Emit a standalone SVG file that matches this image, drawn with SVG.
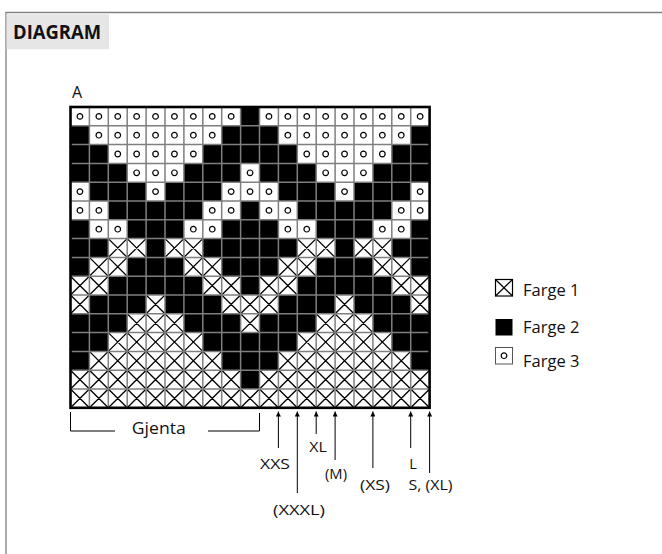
<svg xmlns="http://www.w3.org/2000/svg" xmlns:xlink="http://www.w3.org/1999/xlink" width="662" height="554" viewBox="0 0 662 554">
<style>
.t{font-family:"Open Sans","Liberation Sans",sans-serif;fill:#111}
.b{fill:#000}
.x{fill:none;stroke:#000;stroke-width:1.3}
.ln{stroke:#000;stroke-width:1;fill:none}
.grid{stroke:#7f7f7f;stroke-width:1.5;fill:none}
</style>
<defs>
<circle id="o" cx="0" cy="0" r="2.8" fill="#fff" stroke="#000" stroke-width="1.2"/>
<marker id="ah" viewBox="0 0 10 10" refX="10" refY="5" markerUnits="userSpaceOnUse" markerWidth="7" markerHeight="5" orient="auto">
<path d="M0,0 L10,5 L0,10 z" fill="#000"/>
</marker>
</defs>
<rect width="662" height="554" fill="#fff"/>
<g id="frame">
<path d="M6 554V12.5H662" fill="none" stroke="#808080" stroke-width="1.3"/>
<rect x="6.6" y="13.2" width="102.4" height="36" fill="#e6e6e6"/>
<text class="t" x="13" y="39.3" font-size="20" font-weight="bold" textLength="88" lengthAdjust="spacingAndGlyphs">DIAGRAM</text>
</g>
<text class="t" x="72" y="98.3" font-size="16">A</text>
<g id="chart">
<rect x="70.5" y="107" width="359.1" height="300.8" fill="#fff"/>
<g id="black">
<rect class="b" x="240.6" y="107" width="18.9" height="18.8"/>
<rect class="b" x="70.5" y="125.8" width="18.9" height="18.8"/>
<rect class="b" x="221.7" y="125.8" width="56.7" height="18.8"/>
<rect class="b" x="410.7" y="125.8" width="18.9" height="18.8"/>
<rect class="b" x="70.5" y="144.6" width="37.8" height="18.8"/>
<rect class="b" x="202.8" y="144.6" width="94.5" height="18.8"/>
<rect class="b" x="391.8" y="144.6" width="37.8" height="18.8"/>
<rect class="b" x="70.5" y="163.4" width="56.7" height="18.8"/>
<rect class="b" x="183.9" y="163.4" width="56.7" height="18.8"/>
<rect class="b" x="259.5" y="163.4" width="56.7" height="18.8"/>
<rect class="b" x="372.9" y="163.4" width="56.7" height="18.8"/>
<rect class="b" x="89.4" y="182.2" width="56.7" height="18.8"/>
<rect class="b" x="165" y="182.2" width="56.7" height="18.8"/>
<rect class="b" x="278.4" y="182.2" width="56.7" height="18.8"/>
<rect class="b" x="354" y="182.2" width="56.7" height="18.8"/>
<rect class="b" x="108.3" y="201" width="94.5" height="18.8"/>
<rect class="b" x="240.6" y="201" width="18.9" height="18.8"/>
<rect class="b" x="297.3" y="201" width="94.5" height="18.8"/>
<rect class="b" x="70.5" y="219.8" width="18.9" height="18.8"/>
<rect class="b" x="127.2" y="219.8" width="56.7" height="18.8"/>
<rect class="b" x="221.7" y="219.8" width="56.7" height="18.8"/>
<rect class="b" x="316.2" y="219.8" width="56.7" height="18.8"/>
<rect class="b" x="410.7" y="219.8" width="18.9" height="18.8"/>
<rect class="b" x="70.5" y="238.6" width="37.8" height="18.8"/>
<rect class="b" x="146.1" y="238.6" width="18.9" height="18.8"/>
<rect class="b" x="202.8" y="238.6" width="94.5" height="18.8"/>
<rect class="b" x="335.1" y="238.6" width="18.9" height="18.8"/>
<rect class="b" x="391.8" y="238.6" width="37.8" height="18.8"/>
<rect class="b" x="70.5" y="257.4" width="18.9" height="18.8"/>
<rect class="b" x="127.2" y="257.4" width="56.7" height="18.8"/>
<rect class="b" x="221.7" y="257.4" width="56.7" height="18.8"/>
<rect class="b" x="316.2" y="257.4" width="56.7" height="18.8"/>
<rect class="b" x="410.7" y="257.4" width="18.9" height="18.8"/>
<rect class="b" x="108.3" y="276.2" width="94.5" height="18.8"/>
<rect class="b" x="240.6" y="276.2" width="18.9" height="18.8"/>
<rect class="b" x="297.3" y="276.2" width="94.5" height="18.8"/>
<rect class="b" x="89.4" y="295" width="56.7" height="18.8"/>
<rect class="b" x="165" y="295" width="56.7" height="18.8"/>
<rect class="b" x="278.4" y="295" width="56.7" height="18.8"/>
<rect class="b" x="354" y="295" width="56.7" height="18.8"/>
<rect class="b" x="70.5" y="313.8" width="56.7" height="18.8"/>
<rect class="b" x="183.9" y="313.8" width="56.7" height="18.8"/>
<rect class="b" x="259.5" y="313.8" width="56.7" height="18.8"/>
<rect class="b" x="372.9" y="313.8" width="56.7" height="18.8"/>
<rect class="b" x="70.5" y="332.6" width="37.8" height="18.8"/>
<rect class="b" x="202.8" y="332.6" width="94.5" height="18.8"/>
<rect class="b" x="391.8" y="332.6" width="37.8" height="18.8"/>
<rect class="b" x="70.5" y="351.4" width="18.9" height="18.8"/>
<rect class="b" x="221.7" y="351.4" width="56.7" height="18.8"/>
<rect class="b" x="410.7" y="351.4" width="18.9" height="18.8"/>
<rect class="b" x="240.6" y="370.2" width="18.9" height="18.8"/>
</g>
<path id="crosses" class="x" d="
M108.3 238.6l18.9 18.8m-18.9 0l18.9-18.8l18.9 18.8m-18.9 0l18.9-18.8
M165 238.6l18.9 18.8m-18.9 0l18.9-18.8l18.9 18.8m-18.9 0l18.9-18.8
M297.3 238.6l18.9 18.8m-18.9 0l18.9-18.8l18.9 18.8m-18.9 0l18.9-18.8
M354 238.6l18.9 18.8m-18.9 0l18.9-18.8l18.9 18.8m-18.9 0l18.9-18.8
M89.4 257.4l18.9 18.8m-18.9 0l18.9-18.8l18.9 18.8m-18.9 0l18.9-18.8
M183.9 257.4l18.9 18.8m-18.9 0l18.9-18.8l18.9 18.8m-18.9 0l18.9-18.8
M278.4 257.4l18.9 18.8m-18.9 0l18.9-18.8l18.9 18.8m-18.9 0l18.9-18.8
M372.9 257.4l18.9 18.8m-18.9 0l18.9-18.8l18.9 18.8m-18.9 0l18.9-18.8
M70.5 276.2l18.9 18.8m-18.9 0l18.9-18.8l18.9 18.8m-18.9 0l18.9-18.8
M202.8 276.2l18.9 18.8m-18.9 0l18.9-18.8l18.9 18.8m-18.9 0l18.9-18.8
M259.5 276.2l18.9 18.8m-18.9 0l18.9-18.8l18.9 18.8m-18.9 0l18.9-18.8
M391.8 276.2l18.9 18.8m-18.9 0l18.9-18.8l18.9 18.8m-18.9 0l18.9-18.8
M70.5 295l18.9 18.8m-18.9 0l18.9-18.8
M146.1 295l18.9 18.8m-18.9 0l18.9-18.8
M221.7 295l18.9 18.8m-18.9 0l18.9-18.8l18.9 18.8m-18.9 0l18.9-18.8l18.9 18.8m-18.9 0l18.9-18.8
M335.1 295l18.9 18.8m-18.9 0l18.9-18.8
M410.7 295l18.9 18.8m-18.9 0l18.9-18.8
M127.2 313.8l18.9 18.8m-18.9 0l18.9-18.8l18.9 18.8m-18.9 0l18.9-18.8l18.9 18.8m-18.9 0l18.9-18.8
M240.6 313.8l18.9 18.8m-18.9 0l18.9-18.8
M316.2 313.8l18.9 18.8m-18.9 0l18.9-18.8l18.9 18.8m-18.9 0l18.9-18.8l18.9 18.8m-18.9 0l18.9-18.8
M108.3 332.6l18.9 18.8m-18.9 0l18.9-18.8l18.9 18.8m-18.9 0l18.9-18.8l18.9 18.8m-18.9 0l18.9-18.8l18.9 18.8m-18.9 0l18.9-18.8l18.9 18.8m-18.9 0l18.9-18.8
M297.3 332.6l18.9 18.8m-18.9 0l18.9-18.8l18.9 18.8m-18.9 0l18.9-18.8l18.9 18.8m-18.9 0l18.9-18.8l18.9 18.8m-18.9 0l18.9-18.8l18.9 18.8m-18.9 0l18.9-18.8
M89.4 351.4l18.9 18.8m-18.9 0l18.9-18.8l18.9 18.8m-18.9 0l18.9-18.8l18.9 18.8m-18.9 0l18.9-18.8l18.9 18.8m-18.9 0l18.9-18.8l18.9 18.8m-18.9 0l18.9-18.8l18.9 18.8m-18.9 0l18.9-18.8l18.9 18.8m-18.9 0l18.9-18.8
M278.4 351.4l18.9 18.8m-18.9 0l18.9-18.8l18.9 18.8m-18.9 0l18.9-18.8l18.9 18.8m-18.9 0l18.9-18.8l18.9 18.8m-18.9 0l18.9-18.8l18.9 18.8m-18.9 0l18.9-18.8l18.9 18.8m-18.9 0l18.9-18.8l18.9 18.8m-18.9 0l18.9-18.8
M70.5 370.2l18.9 18.8m-18.9 0l18.9-18.8l18.9 18.8m-18.9 0l18.9-18.8l18.9 18.8m-18.9 0l18.9-18.8l18.9 18.8m-18.9 0l18.9-18.8l18.9 18.8m-18.9 0l18.9-18.8l18.9 18.8m-18.9 0l18.9-18.8l18.9 18.8m-18.9 0l18.9-18.8l18.9 18.8m-18.9 0l18.9-18.8l18.9 18.8m-18.9 0l18.9-18.8
M259.5 370.2l18.9 18.8m-18.9 0l18.9-18.8l18.9 18.8m-18.9 0l18.9-18.8l18.9 18.8m-18.9 0l18.9-18.8l18.9 18.8m-18.9 0l18.9-18.8l18.9 18.8m-18.9 0l18.9-18.8l18.9 18.8m-18.9 0l18.9-18.8l18.9 18.8m-18.9 0l18.9-18.8l18.9 18.8m-18.9 0l18.9-18.8l18.9 18.8m-18.9 0l18.9-18.8
M70.5 389l18.9 18.8m-18.9 0l18.9-18.8l18.9 18.8m-18.9 0l18.9-18.8l18.9 18.8m-18.9 0l18.9-18.8l18.9 18.8m-18.9 0l18.9-18.8l18.9 18.8m-18.9 0l18.9-18.8l18.9 18.8m-18.9 0l18.9-18.8l18.9 18.8m-18.9 0l18.9-18.8l18.9 18.8m-18.9 0l18.9-18.8l18.9 18.8m-18.9 0l18.9-18.8l18.9 18.8m-18.9 0l18.9-18.8
M259.5 389l18.9 18.8m-18.9 0l18.9-18.8l18.9 18.8m-18.9 0l18.9-18.8l18.9 18.8m-18.9 0l18.9-18.8l18.9 18.8m-18.9 0l18.9-18.8l18.9 18.8m-18.9 0l18.9-18.8l18.9 18.8m-18.9 0l18.9-18.8l18.9 18.8m-18.9 0l18.9-18.8l18.9 18.8m-18.9 0l18.9-18.8l18.9 18.8m-18.9 0l18.9-18.8
"/>
<g id="circles">
<g transform="translate(0,116.4)">
<use href="#o" x="79.95"/><use href="#o" x="98.85"/><use href="#o" x="117.75"/><use href="#o" x="136.65"/><use href="#o" x="155.55"/><use href="#o" x="174.45"/><use href="#o" x="193.35"/><use href="#o" x="212.25"/><use href="#o" x="231.15"/>
<use href="#o" x="268.95"/><use href="#o" x="287.85"/><use href="#o" x="306.75"/><use href="#o" x="325.65"/><use href="#o" x="344.55"/><use href="#o" x="363.45"/><use href="#o" x="382.35"/><use href="#o" x="401.25"/><use href="#o" x="420.15"/>
</g>
<g transform="translate(0,135.2)">
<use href="#o" x="98.85"/><use href="#o" x="117.75"/><use href="#o" x="136.65"/><use href="#o" x="155.55"/><use href="#o" x="174.45"/><use href="#o" x="193.35"/><use href="#o" x="212.25"/>
<use href="#o" x="287.85"/><use href="#o" x="306.75"/><use href="#o" x="325.65"/><use href="#o" x="344.55"/><use href="#o" x="363.45"/><use href="#o" x="382.35"/><use href="#o" x="401.25"/>
</g>
<g transform="translate(0,154)">
<use href="#o" x="117.75"/><use href="#o" x="136.65"/><use href="#o" x="155.55"/><use href="#o" x="174.45"/><use href="#o" x="193.35"/>
<use href="#o" x="306.75"/><use href="#o" x="325.65"/><use href="#o" x="344.55"/><use href="#o" x="363.45"/><use href="#o" x="382.35"/>
</g>
<g transform="translate(0,172.8)">
<use href="#o" x="136.65"/><use href="#o" x="155.55"/><use href="#o" x="174.45"/><use href="#o" x="250.05"/><use href="#o" x="325.65"/><use href="#o" x="344.55"/><use href="#o" x="363.45"/>
</g>
<g transform="translate(0,191.6)">
<use href="#o" x="79.95"/><use href="#o" x="155.55"/><use href="#o" x="231.15"/><use href="#o" x="250.05"/><use href="#o" x="268.95"/><use href="#o" x="344.55"/><use href="#o" x="420.15"/>
</g>
<g transform="translate(0,210.4)">
<use href="#o" x="79.95"/><use href="#o" x="98.85"/><use href="#o" x="212.25"/><use href="#o" x="231.15"/><use href="#o" x="268.95"/><use href="#o" x="287.85"/><use href="#o" x="401.25"/><use href="#o" x="420.15"/>
</g>
<g transform="translate(0,229.2)">
<use href="#o" x="98.85"/><use href="#o" x="117.75"/><use href="#o" x="193.35"/><use href="#o" x="212.25"/><use href="#o" x="287.85"/><use href="#o" x="306.75"/><use href="#o" x="382.35"/><use href="#o" x="401.25"/>
</g>
</g>
<path class="grid" d="M89.4 107V407.8M108.3 107V407.8M127.2 107V407.8M146.1 107V407.8M165 107V407.8M183.9 107V407.8M202.8 107V407.8M221.7 107V407.8M240.6 107V407.8M259.5 107V407.8M278.4 107V407.8M297.3 107V407.8M316.2 107V407.8M335.1 107V407.8M354 107V407.8M372.9 107V407.8M391.8 107V407.8M410.7 107V407.8
M70.5 125.8H429.6M70.5 144.6H429.6M70.5 163.4H429.6M70.5 182.2H429.6M70.5 201H429.6M70.5 219.8H429.6M70.5 238.6H429.6M70.5 257.4H429.6M70.5 276.2H429.6M70.5 295H429.6M70.5 313.8H429.6M70.5 332.6H429.6M70.5 351.4H429.6M70.5 370.2H429.6M70.5 389H429.6"/>
<rect x="70.5" y="107" width="359.1" height="300.8" fill="none" stroke="#000" stroke-width="2.6"/>
</g>
<g id="connectors">
<path class="ln" d="M70.5 412V431H115M208 431H259.5V413"/>
<line class="ln" x1="278.4" y1="448" x2="278.4" y2="411.5" marker-end="url(#ah)"/>
<line class="ln" x1="297.3" y1="493" x2="297.3" y2="411.5" marker-end="url(#ah)"/>
<line class="ln" x1="316.2" y1="434" x2="316.2" y2="411.5" marker-end="url(#ah)"/>
<line class="ln" x1="335.1" y1="460" x2="335.1" y2="411.5" marker-end="url(#ah)"/>
<line class="ln" x1="372.9" y1="468" x2="372.9" y2="411.5" marker-end="url(#ah)"/>
<line class="ln" x1="410.7" y1="448" x2="410.7" y2="411.5" marker-end="url(#ah)"/>
<line class="ln" x1="429.6" y1="473" x2="429.6" y2="411.5" marker-end="url(#ah)"/>
</g>
<g id="labels" text-anchor="middle">
<text class="t" x="158.8" y="434" font-size="16" textLength="54" lengthAdjust="spacingAndGlyphs">Gjenta</text>
<text class="t" x="275" y="469" font-size="14.5" textLength="30" lengthAdjust="spacingAndGlyphs">XXS</text>
<text class="t" x="299" y="515" font-size="14.5" textLength="52" lengthAdjust="spacingAndGlyphs">(XXXL)</text>
<text class="t" x="318" y="452" font-size="14.5" textLength="17.5" lengthAdjust="spacingAndGlyphs">XL</text>
<text class="t" x="336" y="479" font-size="14.5" textLength="22" lengthAdjust="spacingAndGlyphs">(M)</text>
<text class="t" x="375" y="490" font-size="14.5" textLength="30" lengthAdjust="spacingAndGlyphs">(XS)</text>
<text class="t" x="413" y="469" font-size="14.5">L</text>
<text class="t" x="430.5" y="490" font-size="14.5" textLength="44" lengthAdjust="spacingAndGlyphs">S, (XL)</text>
</g>
<g id="legend-1">
<rect x="495.5" y="279.5" width="17" height="16.5" fill="#fff" stroke="#000" stroke-width="1.2"/>
<path class="x" d="M495.5 279.5L512.5 296M512.5 279.5L495.5 296"/>
<text class="t" x="523" y="296" font-size="16.5">Farge 1</text>
</g>
<g id="legend-2">
<rect x="495.5" y="319" width="17" height="16.5" fill="#000"/>
<text class="t" x="523" y="333" font-size="16.5">Farge 2</text>
</g>
<g id="legend-3">
<rect x="495.5" y="347.5" width="17" height="16.5" fill="#fff" stroke="#555" stroke-width="1"/>
<use href="#o" x="504" y="355.7"/>
<text class="t" x="523" y="367" font-size="16.5">Farge 3</text>
</g>
</svg>
